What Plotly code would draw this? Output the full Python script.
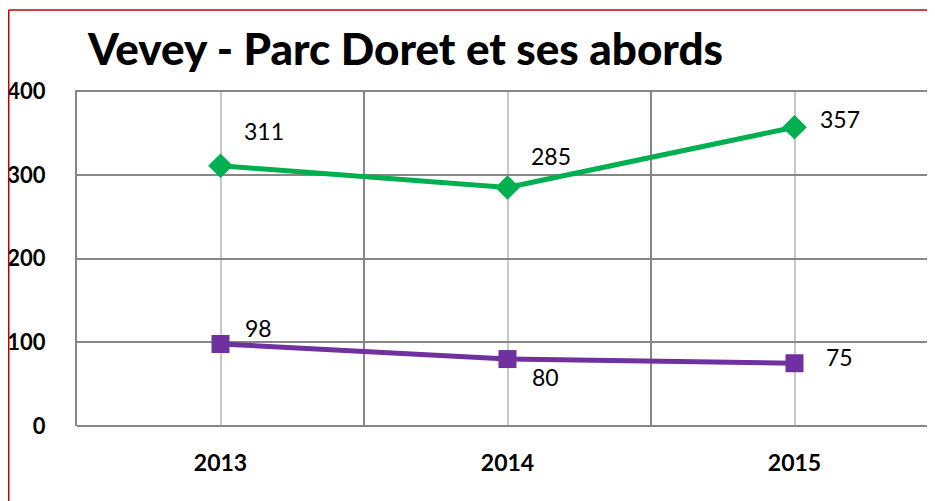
import plotly.graph_objects as go

years = ["2013", "2014", "2015"]
green_values = [311, 285, 357]
purple_values = [98, 80, 75]
y_ticks = [0, 100, 200, 300, 400]

x_idx = list(range(len(years)))

# page has an 8px body margin; figure coords = page coords - 8
W, H = 927, 493
ML, MR, MT, MB = 69, 0, 82, 75
PW, PH = W - ML - MR, H - MT - MB

fig = go.Figure()
fig.add_trace(go.Scatter(
    x=x_idx, y=green_values, mode="lines+markers",
    line=dict(color="#00B050", width=5),
    marker=dict(symbol="diamond", size=19, color="#00B050"),
    showlegend=False, cliponaxis=False,
))
fig.add_trace(go.Scatter(
    x=x_idx, y=purple_values, mode="lines+markers",
    line=dict(color="#7030A0", width=5),
    marker=dict(symbol="square", size=18, color="#7030A0"),
    showlegend=False, cliponaxis=False,
))

green_shifts = [(43, 35), (43, 31), (45, 8)]
purple_shifts = [(38, 16), (38, -18), (45, 6)]
for i, v in enumerate(green_values):
    fig.add_annotation(x=x_idx[i], y=v, text=str(v), showarrow=False,
                       xshift=green_shifts[i][0], yshift=green_shifts[i][1],
                       font=dict(family="Lato", size=23, color="#000000"))
for i, v in enumerate(purple_values):
    fig.add_annotation(x=x_idx[i], y=v, text=str(v), showarrow=False,
                       xshift=purple_shifts[i][0], yshift=purple_shifts[i][1],
                       font=dict(family="Lato", size=23, color="#000000"))

# red border (left and top)
bx = (0.75 - ML) / PW
by = 1 + (MT - 2) / PH
fig.add_shape(type="line", xref="paper", yref="paper",
              x0=bx, x1=bx, y0=by, y1=-(MB + 5) / PH,
              line=dict(color="#C00000", width=1.5))
fig.add_shape(type="line", xref="paper", yref="paper",
              x0=bx, x1=1.1, y0=by, y1=by,
              line=dict(color="#C00000", width=1.5))

fig.update_layout(
    width=W, height=H,
    margin=dict(l=ML, r=MR, t=MT, b=MB, autoexpand=False),
    paper_bgcolor="white", plot_bgcolor="white",
    title=dict(text="Vevey - Parc Doret et ses abords",
               x=80 / W, xanchor="left", xref="container",
               y=1 - 42 / H, yanchor="middle", yref="container",
               font=dict(family="Lato", size=44, color="#000000", weight=900)),
    xaxis=dict(
        range=[-0.5, -0.5 + PW / 287.0],
        tickvals=x_idx, ticktext=[f"<b>{y}</b>" for y in years],
        tickfont=dict(family="Lato", size=23, color="#000000"),
        showgrid=True, gridcolor="#C8C8C8", gridwidth=1.5,
        minor=dict(tick0=0.5, dtick=1, showgrid=True, gridcolor="#868686", gridwidth=1.5),
        showline=False, zeroline=False, ticks="",
        ticklabelstandoff=21, automargin=False,
    ),
    yaxis=dict(
        range=[0, 401.5],
        tickvals=y_ticks, ticktext=[f"<b>{t}</b>" for t in y_ticks],
        tickfont=dict(family="Lato", size=22, color="#000000"),
        showgrid=True, gridcolor="#868686", gridwidth=1.5,
        showline=True, linecolor="#868686", linewidth=2,
        zeroline=True, zerolinecolor="#868686", zerolinewidth=2,
        ticks="", ticklabelstandoff=25, automargin=False,
    ),
)

fig.write_html("out.html")
